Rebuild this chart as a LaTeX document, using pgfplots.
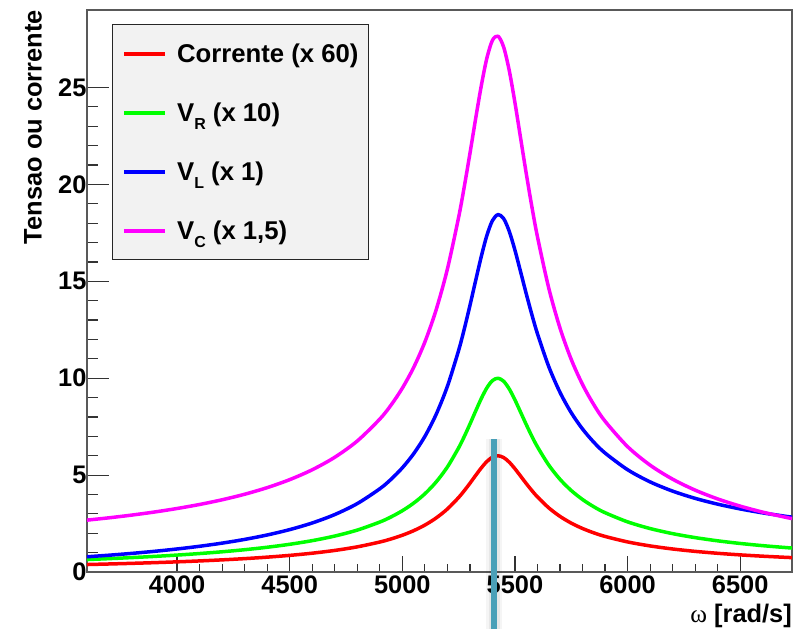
\documentclass[border=0pt]{standalone}
\usepackage{pgfplots}
\pgfplotsset{compat=1.18}
\usepackage{pgfplotstable}
\usepackage{fontspec}
\setmainfont{Liberation Sans}
\newfontfamily\seriffont{Liberation Serif}
\definecolor{cRed}{RGB}{255,0,0}
\definecolor{cGreen}{RGB}{0,255,0}
\definecolor{cBlue}{RGB}{0,0,255}
\definecolor{cMag}{RGB}{255,0,255}
\definecolor{legfill}{RGB}{242,242,242}
\definecolor{marker}{RGB}{74,160,184}

\pgfplotstableread{
w    I60    VR10   VL     VC15
3600 0.3854 0.6423 0.7861 2.6761
3700 0.4143 0.6905 0.8687 2.7994
3800 0.4467 0.7444 0.9618 2.9386
3900 0.4830 0.8051 1.0675 3.0965
4000 0.5243 0.8738 1.1884 3.2769
4100 0.5715 0.9526 1.3279 3.4850
4200 0.6262 1.0436 1.4903 3.7271
4300 0.6902 1.1503 1.6817 4.0126
4400 0.7662 1.2770 1.9104 4.3534
4500 0.8579 1.4298 2.1876 4.7660
4600 0.9708 1.6180 2.5305 5.2761
4700 1.1130 1.8551 2.9644 5.9206
4800 1.2980 2.1633 3.5305 6.7603
4900 1.5467 2.5779 4.2948 7.8914
4950 1.7060 2.8433 4.7853 8.6161
5000 1.8974 3.1623 5.3759 9.4868
5050 2.1311 3.5518 6.0984 10.550
5100 2.4206 4.0344 6.9956 11.866
5150 2.7863 4.6438 8.1313 13.525
5200 3.2511 5.4185 9.5799 15.630
5250 3.8450 6.4083 11.439 18.309
5275 4.1955 6.9925 12.541 19.884
5300 4.5763 7.6271 13.744 21.586
5325 4.9754 8.2924 15.013 23.359
5350 5.3624 8.9373 16.257 25.058
5375 5.6980 9.4966 17.355 26.502
5400 5.9260 9.8766 18.133 27.435
5425 5.9996 9.9993 18.444 27.648
5450 5.9036 9.8394 18.232 27.081
5475 5.6628 9.4380 17.569 25.857
5500 5.3272 8.8787 16.603 24.215
5525 4.9489 8.2481 15.494 22.393
5550 4.5672 7.6120 14.364 20.573
5575 4.2051 7.0085 13.285 18.857
5600 3.8735 6.4559 12.292 17.293
5650 3.3115 5.5191 10.602 14.653
5700 2.8697 4.7829 9.2693 12.587
5750 2.5219 4.2032 8.2173 10.965
5800 2.2449 3.7415 7.3782 9.6763
5850 2.0206 3.3676 6.6982 8.6349
5900 1.8362 3.0604 6.1392 7.7807
6000 1.5524 2.5873 5.2781 6.4683
6100 1.3453 2.2421 4.6501 5.5133
6200 1.1879 1.9798 4.1734 4.7899
6300 1.0645 1.7742 3.8003 4.2243
6400 0.9653 1.6088 3.5007 3.7706
6500 0.8837 1.4729 3.2551 3.3990
6600 0.8156 1.3593 3.0503 3.0893
6700 0.7577 1.2629 2.8769 2.8274
6730 0.7421 1.2368 2.8301 2.7566
}\datatab

\begin{document}
\begin{tikzpicture}
\begin{axis}[
  set layers,
  scale only axis, width=705bp, height=562bp,
  xmin=3600, xmax=6730, ymin=0, ymax=29,
  xtick={4000,4500,...,6500}, ytick={0,5,...,25},
  minor x tick num=4, minor y tick num=4,
  xtick pos=bottom, ytick pos=left, tick align=inside,
  xtick style={/pgfplots/major tick length=16bp,/pgfplots/minor tick length=8bp},
  ytick style={/pgfplots/major tick length=22bp,/pgfplots/minor tick length=11bp},
  tick style={line width=1.2bp, draw=black!80},
  axis line style={line width=1.5bp, draw=black!65},
  /pgf/number format/assume math mode=true,
  /pgf/number format/1000 sep={},
  tick label style={font=\fontsize{25.5}{30}\selectfont\bfseries},
  yticklabel style={xshift=3bp},
  clip=false,
  xlabel={{\seriffont\mdseries ω} \textbf{[rad/s]}},
  ylabel={Tensao ou corrente},
  every axis x label/.style={at={(rel axis cs:1,0)}, anchor=base east, yshift=-50bp, inner sep=0pt, font=\fontsize{25.5}{30}\selectfont\bfseries},
  every axis y label/.style={at={(rel axis cs:0,1)}, xshift=-54bp, rotate=90, anchor=east, inner sep=0pt, font=\fontsize{25.5}{30}\selectfont\bfseries},
  legend style={at={(rel axis cs:0.035,0.975)}, anchor=north west, draw=black!85, line width=1bp, fill=legfill,
    inner xsep=10bp, inner ysep=20bp, row sep=41bp, column sep=10bp,
    font=\fontsize{25.8}{30}\selectfont\bfseries,
    nodes={inner sep=0pt, text height=18bp, text depth=0pt}},
  legend cell align=left,
  legend image code/.code={\draw[#1, line width=4bp] (0bp,0bp) -- (41bp,0bp);},
  every axis plot/.append style={line width=3.5bp, line join=round},
]
\addplot[cRed, smooth] table[x=w, y=I60] {\datatab};
\addlegendentry{Corrente (x 60)}
\addplot[cGreen, smooth] table[x=w, y=VR10] {\datatab};
\addlegendentry{V\raisebox{-0.3em}{\fontsize{16}{16}\selectfont R} (x 10)}
\addplot[cBlue, smooth] table[x=w, y=VL] {\datatab};
\addlegendentry{V\raisebox{-0.3em}{\fontsize{16}{16}\selectfont L} (x 1)}
\addplot[cMag, smooth] table[x=w, y=VC15] {\datatab};
\addlegendentry{V\raisebox{-0.3em}{\fontsize{16}{16}\selectfont C} (x 1,5)}
\addplot[draw=black, opacity=0.04, line width=16bp, line cap=butt, forget plot] coordinates {(5408,6.85) (5408,-2.95)};
\addplot[draw=black, opacity=0.06, line width=11bp, line cap=butt, forget plot] coordinates {(5408,6.85) (5408,-2.95)};
\addplot[draw=marker, line width=6bp, line cap=butt, forget plot] coordinates {(5408,6.85) (5408,-2.95)};
\end{axis}
\pgfresetboundingbox
\path ([shift={(-87bp,-57bp)}]current axis.south west) rectangle ([shift={(11bp,10bp)}]current axis.north east);
\end{tikzpicture}
\end{document}
